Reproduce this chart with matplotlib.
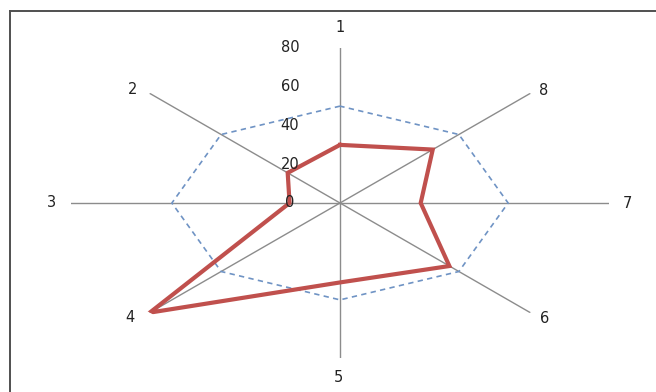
import numpy as np
import matplotlib
matplotlib.use("Agg")
import matplotlib.pyplot as plt
from matplotlib.lines import Line2D

categories = ['1', '2', '3', '4', '5', '6', '7', '8']
series_a = [30, 22, 15, 80, 41, 46, 24, 39]
series_b = [50, 50, 50, 50, 50, 50, 50, 50]
radial_ticks = [0, 20, 40, 60, 80]
rmax = 80

W, H, DPI = 656, 392, 100
fig = plt.figure(figsize=(W / DPI, H / DPI), dpi=DPI)
fig.patch.set_facecolor('white')

# axes box in pixels
cx, cy = 340, 203
rx, ry = 269, 155
ax = fig.add_axes([(cx - rx) / W, (H - cy - ry) / H, 2 * rx / W, 2 * ry / H],
                  projection='polar')
ax.set_aspect('auto')
ax.set_theta_offset(np.pi / 2)
ax.set_theta_direction(1)
ax.set_ylim(0, rmax)
ax.grid(False)
ax.spines['polar'].set_visible(False)
ax.set_xticks([])
ax.set_yticks([])
ax.patch.set_alpha(0)

n = len(categories)
theta = np.arange(n) * 2 * np.pi / n

# spokes
for t in theta:
    ax.plot([t, t], [0, rmax], color='#8c8c8c', lw=1.0, zorder=1)

tc = np.append(theta, theta[0])
ax.plot(tc, np.append(series_b, series_b[0]), color='#6f93c4', lw=1.2,
        linestyle=(0, (3.2, 2.6)), zorder=2)
ax.plot(tc, np.append(series_a, series_a[0]), color='#c0504d', lw=3.0,
        solid_joinstyle='miter', zorder=3)

px = 72 / DPI
# radial tick labels
for v in radial_ticks:
    ax.annotate(str(v), xy=(0, v), xytext=(-50 * px, 0), textcoords='offset points',
                ha='center', va='center', fontsize=10.5, color='#222222')

# category labels
offsets = [(0, 20), (-17, 4), (-20, 0), (-20, -5), (-2, -20), (14, -6), (18, 0), (13, 3)]
for t, lab, (dx, dy) in zip(theta, categories, offsets):
    ax.annotate(lab, xy=(t, rmax), xytext=(dx * px, dy * px), textcoords='offset points',
                ha='center', va='center', fontsize=10.5, color='#222222',
                annotation_clip=False)

# chart frame (left and top edges visible)
fig.add_artist(Line2D([10 / W, 10 / W], [0, 1 - 11 / H], transform=fig.transFigure,
                      color='#505050', lw=1.4))
fig.add_artist(Line2D([10 / W, 1], [1 - 11 / H, 1 - 11 / H], transform=fig.transFigure,
                      color='#505050', lw=1.4))

fig.savefig('out.png', dpi=DPI)
